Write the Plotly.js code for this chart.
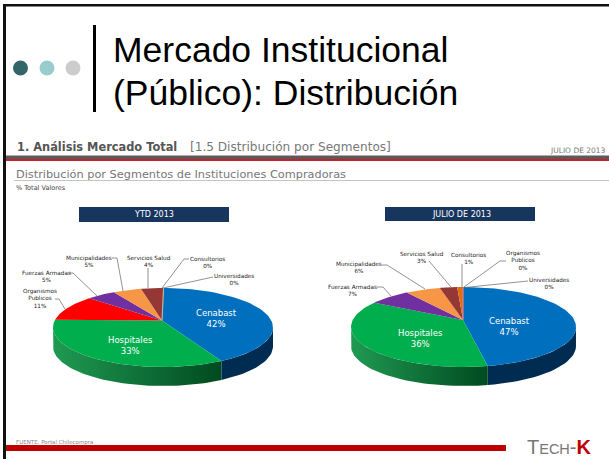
<!DOCTYPE html>
<html><head><meta charset="utf-8">
<script src="https://cdn.plot.ly/plotly-3.0.1.min.js"></script>
<style>html,body{margin:0;padding:0;background:#fff}#c{width:609px;height:459px}</style></head>
<body><div id="c"></div>
<script>
var categories = ["Cenabast","Hospitales","Organismos<br>Publicos","Fuerzas Armadas","Municipalidades","Servicios Salud","Consultorios","Universidades"];
var ytdValues = [42,33,11,5,5,4,0,0];
var ytdLabels = ["42%","33%","11%","5%","5%","4%","0%","0%"];
var julCategories = ["Cenabast","Hospitales","Fuerzas Armadas","Municipalidades","Servicios Salud","Consultorios","Organismos<br>Publicos","Universidades"];
var julValues = [47,36,7,6,3,1,0,0];
var julLabels = ["47%","36%","7%","6%","3%","1%","0%","0%"];
var colorMap = {"Cenabast":"#006fbe","Hospitales":"#00ae4e","Organismos<br>Publicos":"#ff0000","Fuerzas Armadas":"#7030a0","Municipalidades":"#f79646","Servicios Salud":"#953735","Consultorios":"#e46c0a","Universidades":"#b9cde5"};
var sideMap = {"Cenabast":["#002c52","#002c52"],"Hospitales":["#1f9a52","#014a20"]};
var ytdTitle = "YTD 2013", julTitle = "JULIO DE 2013";
var slideLines = ["Mercado Institucional","(Público): Distribución"];

// placement of each label: text centre, then leader polyline
var ytdCallouts = {
 "Cenabast":{t:[216,318.5]},
 "Hospitales":{t:[130,345.5]},
 "Organismos<br>Publicos":{t:[40,298],lx:[55,59,65],ly:[299,299,309]},
 "Fuerzas Armadas":{t:[46,276],lx:[69,73,97],ly:[273,273,296]},
 "Municipalidades":{t:[89,261.5],lx:[112,117,123],ly:[258,258,291]},
 "Servicios Salud":{t:[149,261.5],lx:[148,148],ly:[268,288]},
 "Consultorios":{t:[207,262],lx:[189,184,162],ly:[259,259,288]},
 "Universidades":{t:[234,279.5],lx:[213,163],ly:[277,288]}
};
var julCallouts = {
 "Cenabast":{t:[509.5,326.5]},
 "Hospitales":{t:[420,338]},
 "Fuerzas Armadas":{t:[352,290],lx:[377,383,391],ly:[287,287,296]},
 "Municipalidades":{t:[359,267],lx:[382,387,425],ly:[265,265,289]},
 "Servicios Salud":{t:[422,257.5],lx:[429,451],ly:[261,287]},
 "Consultorios":{t:[468,258],lx:[462,462],ly:[264,288]},
 "Organismos<br>Publicos":{t:[523,260],lx:[506,500,464],ly:[261,261,287]},
 "Universidades":{t:[548.5,283.5],lx:[528,465],ly:[281,287.5]}
};
var F="'Liberation Sans',Arial,sans-serif", D="'DejaVu Sans',sans-serif";
var traces=[], shapes=[], ann=[];
function T(x,y,t,size,color,family,o){ann.push(Object.assign({x:x,y:y,xref:'x',yref:'y',text:t,showarrow:false,font:{size:size,color:color,family:family||D},xanchor:'center',yanchor:'middle'},o||{}));}

function pie(cats,vals,labs,callouts,geo){
  var total=vals.reduce(function(a,b){return a+b},0), a0=geo.start*Math.PI/180;
  function rim(th){ // ray from the apex to the ellipse rim
    var dx=Math.sin(th)*geo.rx, dy=-Math.cos(th)*geo.ry, oy=geo.ay-geo.cy, ox=geo.ax-geo.cx;
    var A=dx*dx/(geo.rx*geo.rx)+dy*dy/(geo.ry*geo.ry);
    var B=2*(ox*dx/(geo.rx*geo.rx)+oy*dy/(geo.ry*geo.ry));
    var C=ox*ox/(geo.rx*geo.rx)+oy*oy/(geo.ry*geo.ry)-1;
    var t=(-B+Math.sqrt(B*B-4*A*C))/(2*A);
    return [geo.ax+dx*t,geo.ay+dy*t];
  }
  var cum=0, wedges=[];
  vals.forEach(function(v,i){
    var s=a0+cum/total*2*Math.PI; cum+=v; var e=a0+cum/total*2*Math.PI;
    wedges.push({s:s,e:e,cat:cats[i],v:v,lab:labs[i]});
  });
  wedges.forEach(function(w){
    if(w.v===0) return;
    var xs=[],ys=[],n=60,top=[];
    for(var k=0;k<=n;k++){var p=rim(w.s+(w.e-w.s)*k/n); if(p[1]>=geo.cy-2) top.push(p);}
    if(top.length<2) return;
    top.forEach(function(p){xs.push(p[0]);ys.push(p[1]);});
    top.slice().reverse().forEach(function(p){xs.push(p[0]);ys.push(p[1]+geo.depth);});
    var c=sideMap[w.cat]||["#999","#666"];
    traces.push({type:'scatter',mode:'lines',x:xs,y:ys,fill:'toself',line:{width:0},hoverinfo:'skip',showlegend:false,
      fillcolor:c[1],
      fillgradient:{type:'horizontal',colorscale:w.cat==='Hospitales'?[[0,c[0]],[1,c[1]]]:[[0,c[1]],[1,c[0]]]}});
  });
  wedges.forEach(function(w){
    var xs=[geo.ax],ys=[geo.ay],n=60;
    for(var k=0;k<=n;k++){var p=rim(w.s+(w.e-w.s)*k/n);xs.push(p[0]);ys.push(p[1]);}
    if(w.v===0){
      traces.push({type:'scatter',mode:'lines',x:xs,y:ys,line:{width:0.8,color:colorMap[w.cat]},showlegend:false,hoverinfo:'skip'});
      return;
    }
    traces.push({type:'scatter',mode:'lines',x:xs,y:ys,fill:'toself',fillcolor:colorMap[w.cat],line:{width:0},showlegend:false,
      name:w.cat.replace('<br>',' '),hoverinfo:'name+text',text:xs.map(function(){return w.lab})});
  });
  wedges.forEach(function(w){
    var c=callouts[w.cat];
    if(c.lx){
      T(c.t[0],c.t[1],w.cat+'<br>'+w.lab,5.7,'#222');
      traces.push({type:'scatter',mode:'lines',x:c.lx,y:c.ly,line:{color:'#777',width:0.8},hoverinfo:'skip',showlegend:false});
    } else {
      T(c.t[0],c.t[1],w.cat+'<br>'+w.lab,8.5,'#fff');
    }
  });
}
pie(categories,ytdValues,ytdLabels,ytdCallouts,{cx:163,cy:327.5,rx:110,ry:39.5,ax:162,ay:320.5,depth:19,start:1});
pie(julCategories,julValues,julLabels,julCallouts,{cx:463.5,cy:327,rx:112.5,ry:40,ax:463,ay:320,depth:19,start:0});

function rect(x0,y0,x1,y1,c){shapes.push({type:'rect',xref:'x',yref:'y',x0:x0,x1:x1,y0:y0,y1:y1,fillcolor:c,line:{width:0},layer:'below'});}
rect(3,4,609,6.5,'#111'); rect(3,4,6,459,'#111');
rect(93,25,96,112,'#000');
[[20.5,'#336666'],[47,'#99cccc'],[73,'#cccccc']].forEach(function(d){shapes.push({type:'circle',xref:'x',yref:'y',x0:d[0]-7.5,x1:d[0]+7.5,y0:60.5,y1:75.5,fillcolor:d[1],line:{width:0}});});
rect(6,155.5,609,159,'#5a5a5a'); rect(6,159,609,161,'#c8202a');
rect(14,180.2,609,181,'#b0b0b0');
rect(79,207,229,222,'#17365d'); rect(385,207,535,221,'#17365d');
rect(6,445,506,451,'#c00000');
T(111,50,slideLines[0],35.5,'#000',F,{xanchor:'left'});
T(111,93,slideLines[1],35.5,'#000',F,{xanchor:'left'});
T(15,147,'<b>1. Análisis Mercado Total</b>',11.4,'#555',D,{xanchor:'left'});
T(188,147,'[1.5 Distribución por Segmentos]',12.1,'#777',D,{xanchor:'left'});
T(608,150,'JULIO DE 2013',7.5,'#777',D,{xanchor:'right'});
T(14,174,'Distribución por Segmentos de Instituciones Compradoras',11.3,'#777',D,{xanchor:'left'});
T(14,188,'% Total Valores',6.5,'#444',D,{xanchor:'left'});
T(154,214.5,ytdTitle,8,'#fff');
T(461,214,julTitle,8,'#fff');
T(14,442,'FUENTE: Portal Chilecompra',5.5,'#888',D,{xanchor:'left'});
T(525,447,'T<span style="font-size:14.5px">ECH</span>-<b style="color:#c00000;">K</b>',20,'#777',F,{xanchor:'left'});

Plotly.newPlot('c',traces,{
  width:609,height:459,margin:{l:0,r:0,t:0,b:0},paper_bgcolor:'#fff',plot_bgcolor:'#fff',showlegend:false,
  xaxis:{range:[0,609],visible:false,fixedrange:true},
  yaxis:{range:[459,0],visible:false,fixedrange:true},
  shapes:shapes,annotations:ann
},{displayModeBar:false});
</script></body></html>
